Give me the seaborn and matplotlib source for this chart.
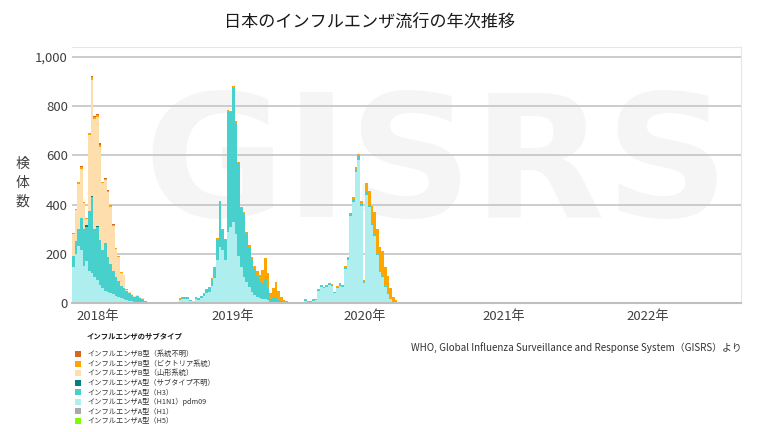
import numpy as np
import pandas as pd
import matplotlib
matplotlib.use('Agg')
import matplotlib.pyplot as plt
from matplotlib.patches import Rectangle
from matplotlib.ticker import FuncFormatter
import seaborn as sns

# 週ごとの検体数（2017年第44週ごろ〜2022年第35週ごろ, 251週）
n_weeks = 251

h1n1 = ([146, 200, 230, 215, 150, 170, 130, 120, 105, 95, 75, 60, 50, 45, 40, 35, 30, 25, 20, 15,
         12, 10, 8, 6, 6, 5, 4, 2, 1, 1, 1]
        + [1, 1, 0, 1, 1, 1, 2, 2, 2]
        + [14, 18, 18, 17, 8, 7, 18, 14, 21, 27, 40, 44]
        + [70, 100, 175, 229, 216, 175, 290, 310, 330, 280, 190, 148, 107, 87, 66, 46, 33, 26, 20, 18,
           15, 12, 6, 6, 6, 4, 3, 2, 1]
        + [2, 1, 1, 1, 2, 2, 10, 5, 5, 10, 11]
        + [48, 63, 59, 64, 74, 68, 40, 62, 71, 65, 139, 174, 352, 412, 532, 582, 394, 82, 439, 392,
           318, 274, 195, 127, 106, 65, 36, 16, 5, 3, 1, 1]
        + [0] * 116
        + [2, 3, 4, 3, 4, 3, 4, 2]
        + [0, 0, 0])

h3 = ([45, 50, 70, 130, 150, 140, 245, 310, 195, 215, 181, 155, 193, 143, 120, 95, 75, 65, 50, 47,
       38, 30, 24, 19, 22, 17, 12, 6, 4, 4, 3]
      + [2, 1, 1, 1, 0, 1, 1, 1, 1]
      + [4, 6, 6, 5, 3, 2, 6, 5, 7, 10, 15, 17]
      + [26, 41, 83, 181, 79, 82, 487, 464, 542, 453, 377, 236, 256, 197, 163, 134, 105, 84, 65, 62,
         84, 53, 12, 16, 19, 10, 5, 3, 2]
      + [1] * 11
      + [5, 6, 5, 6, 6, 6, 4, 5, 6, 5, 8, 8, 10, 12, 14, 14, 10, 3, 10, 8,
         6, 6, 5, 4, 4, 3, 2, 1, 1, 0, 0, 0]
      + [0] * 43 + [1, 2, 1] + [0] * 16 + [1] + [0] * 24 + [1] + [0] * 28
      + [0, 1, 2, 1, 2, 2, 1, 0]
      + [0, 0, 0])

b_victoria = ([3, 4, 8, 8, 5, 4, 8, 10, 8, 8, 8, 6, 6, 6, 5, 5, 4, 3, 3, 3,
               3, 1, 0, 0, 0, 0, 0, 0, 0, 0, 0]
              + [0] * 9
              + [2, 2, 2, 2, 1, 1, 2, 1, 2, 2, 3, 3]
              + [4, 4, 5, 6, 5, 5, 8, 8, 8, 8, 7, 6, 8, 6, 7, 8, 12, 18, 30, 55,
                 85, 55, 22, 40, 62, 36, 18, 9, 5]
              + [2, 2, 2, 2, 2, 3, 4, 3, 3, 4, 3]
              + [3, 4, 3, 3, 3, 3, 2, 3, 3, 3, 3, 4, 5, 6, 8, 10, 12, 8, 40, 55,
                 70, 90, 100, 95, 100, 80, 70, 42, 20, 9, 4, 2]
              + [2, 1]
              + [0] * 125)

b_yamagata = ([91, 128, 185, 200, 107, 23, 309, 472, 447, 441, 379, 272, 256, 262, 232, 182, 116, 97, 52, 50,
               2, 4, 4, 3, 4, 4, 4, 2, 1, 1, 1]
              + [0] * 220)

b_unknown = ([0, 0, 0, 4, 0, 0, 0, 6, 5, 5, 5, 0, 4, 3, 3, 3, 0, 0, 0, 0, 2]
             + [0] * 230)

a_unknown = ([0, 0, 0, 0, 0, 8, 0, 5, 0, 4]
             + [0] * 241)

h1 = [0] * n_weeks
h5 = [0] * n_weeks

subtypes = ['インフルエンザB型（系統不明）', 'インフルエンザB型（ビクトリア系統）', 'インフルエンザB型（山形系統）',
            'インフルエンザA型（サブタイプ不明）', 'インフルエンザA型（H3）', 'インフルエンザA型（H1N1）pdm09',
            'インフルエンザA型（H1）', 'インフルエンザA型（H5）']
colors = ['#D2691E', '#FFA500', '#FFDEAD', '#008080', '#48D1CC', '#AFEEEE', '#A9A9A9', '#7CFC00']
values = [b_unknown, b_victoria, b_yamagata, a_unknown, h3, h1n1, h1, h5]

y_ticks = [0, 200, 400, 600, 800, 1000]
year_ticks = [9, 60, 109.5, 161.5, 215.5]
year_labels = ['2018年', '2019年', '2020年', '2021年', '2022年']

weeks = np.arange(n_weeks)
df = pd.DataFrame({
    'week': np.tile(weeks, len(subtypes)),
    'subtype': np.repeat(subtypes, n_weeks),
    'count': np.concatenate([np.array(v) for v in values]),
})

sns.set_theme(style='white')
plt.rcParams['font.family'] = ['Noto Sans CJK JP', 'DejaVu Sans']

fig = plt.figure(figsize=(7.68, 4.32), dpi=100)
ax = fig.add_axes([72 / 768, 129 / 432, 669 / 768, 256 / 432])

# 積み上げ棒（hue_order の先頭が一番上）
sns.histplot(data=df, x='week', weights='count', hue='subtype', hue_order=subtypes,
             palette=colors, multiple='stack', discrete=True, shrink=1.0,
             linewidth=0, alpha=1, legend=False, ax=ax)

# 背景の透かし
ax.text(0.545, 0.52, 'GISRS', transform=ax.transAxes, ha='center', va='center',
        fontsize=124, fontweight='bold', color='#F5F5F5', family='DejaVu Sans', zorder=0)

ax.set_xlim(-0.5, n_weeks - 0.5)
ax.set_ylim(0, 1040)
ax.set_yticks(y_ticks)
ax.yaxis.set_major_formatter(FuncFormatter(lambda v, p: f'{int(v):,}'))
ax.set_xticks(year_ticks)
ax.set_xticklabels(year_labels)
ax.set_xlabel('')
ax.set_ylabel('')
ax.grid(axis='y', color='#C4C4C4', linewidth=1.2)
ax.grid(axis='x', visible=False)
ax.set_axisbelow(True)
ax.tick_params(axis='both', length=0, labelsize=9.5, colors='#404040')
ax.tick_params(axis='y', pad=3)
ax.tick_params(axis='x', pad=5)
ax.spines['left'].set_visible(False)
ax.spines['bottom'].set_color('#BFBFBF')
ax.spines['bottom'].set_linewidth(1.5)
ax.spines['top'].set_color('#E6E6E6')
ax.spines['top'].set_linewidth(0.8)
ax.spines['right'].set_color('#E6E6E6')
ax.spines['right'].set_linewidth(0.8)

fig.text(370 / 768, 1 - 22 / 432, '日本のインフルエンザ流行の年次推移', ha='center', va='center',
         fontsize=12.3, color='#1A1A1A')
fig.text(22 / 768, 1 - 183 / 432, '検\n体\n数', ha='center', va='center',
         fontsize=10, linespacing=1.45, color='#404040')

# 凡例
fig.text(87 / 768, 1 - 337 / 432, 'インフルエンザのサブタイプ', ha='left', va='center',
         fontsize=5.3, fontweight='bold', color='#1A1A1A')
for k, (label, color) in enumerate(zip(subtypes, colors)):
    yc = 354.3 + 9.49 * k
    fig.add_artist(Rectangle((75 / 768, 1 - (yc + 3) / 432), 6 / 768, 6 / 432,
                             transform=fig.transFigure, facecolor=color, edgecolor='none'))
    fig.text(87 / 768, 1 - yc / 432, label, ha='left', va='center', fontsize=5.2, color='#333333')

fig.text(742 / 768, 1 - 348 / 432,
         'WHO, Global Influenza Surveillance and Response System（GISRS）より',
         ha='right', va='center', fontsize=7.1, color='#333333')

fig.savefig('out.png', dpi=100)
